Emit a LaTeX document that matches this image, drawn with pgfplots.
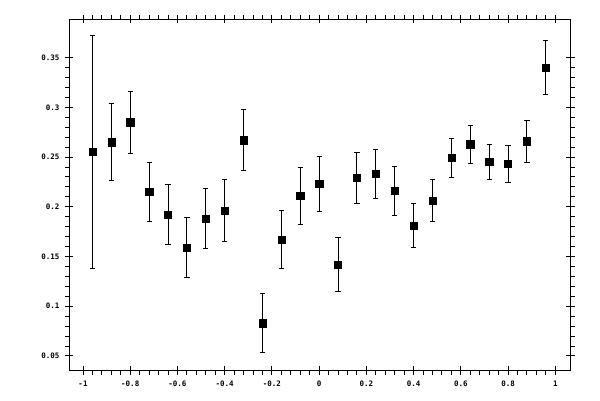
\documentclass[border=0pt]{standalone}
\usepackage{fontspec}
\setmonofont{DejaVu Sans Mono}
\usepackage{pgfplots}
\usepackage{pgfplotstable}
\pgfplotsset{compat=1.18}

\pgfplotstableread{
x     y     e
-0.96 0.255 0.117
-0.88 0.265 0.039
-0.80 0.285 0.031
-0.72 0.215 0.030
-0.64 0.192 0.030
-0.56 0.159 0.030
-0.48 0.188 0.030
-0.40 0.196 0.031
-0.32 0.267 0.031
-0.24 0.083 0.030
-0.16 0.167 0.029
-0.08 0.211 0.029
0.00  0.223 0.028
0.08  0.142 0.027
0.16  0.229 0.026
0.24  0.233 0.025
0.32  0.216 0.025
0.40  0.181 0.022
0.48  0.206 0.021
0.56  0.249 0.020
0.64  0.263 0.019
0.72  0.245 0.018
0.80  0.243 0.019
0.88  0.266 0.021
0.96  0.340 0.027
}\datatable

\begin{document}
\begin{tikzpicture}[x=1pt,y=1pt]
\useasboundingbox (0,0) rectangle (600,400);
\begin{axis}[
  at={(69.5pt,30pt)}, anchor=south west,
  scale only axis,
  width=500.5pt, height=351pt,
  xmin=-1.0572, xmax=1.0622,
  ymin=0.0359, ymax=0.3888,
  xtick={-1,-0.8,-0.6,-0.4,-0.2,0,0.2,0.4,0.6,0.8,1},
  xticklabels={-1,-0.8,-0.6,-0.4,-0.2,0,0.2,0.4,0.6,0.8,1},
  ytick={0.05,0.1,0.15,0.2,0.25,0.3,0.35},
  yticklabels={0.05,0.1,0.15,0.2,0.25,0.3,0.35},
  minor tick num=4,
  scaled ticks=false,
  tick align=outside,
  major tick length=4.5pt,
  minor tick length=4.5pt,
  extra x ticks={-1,-0.8,-0.6,-0.4,-0.2,0,0.2,0.4,0.6,0.8,1},
  extra y ticks={0.05,0.1,0.15,0.2,0.25,0.3,0.35},
  extra tick style={tick align=inside, major tick length=4pt},
  extra x tick labels={},
  extra y tick labels={},
  axis line style={line width=1pt},
  every tick/.style={line width=1pt, black},
  tick label style={font=\fontsize{7.5}{9}\ttfamily\bfseries},
  xticklabel style={yshift=-3pt},
  yticklabel style={xshift=-2pt},
]
\addplot[
  only marks, black,
  mark=square*, mark size=3.6pt,
  error bars/.cd,
    y dir=both, y explicit,
    error bar style={line width=1pt, black},
    error mark options={rotate=90, mark size=2.6pt, line width=1pt, black},
] table[x=x, y=y, y error=e] {\datatable};
\end{axis}
\end{tikzpicture}
\end{document}
